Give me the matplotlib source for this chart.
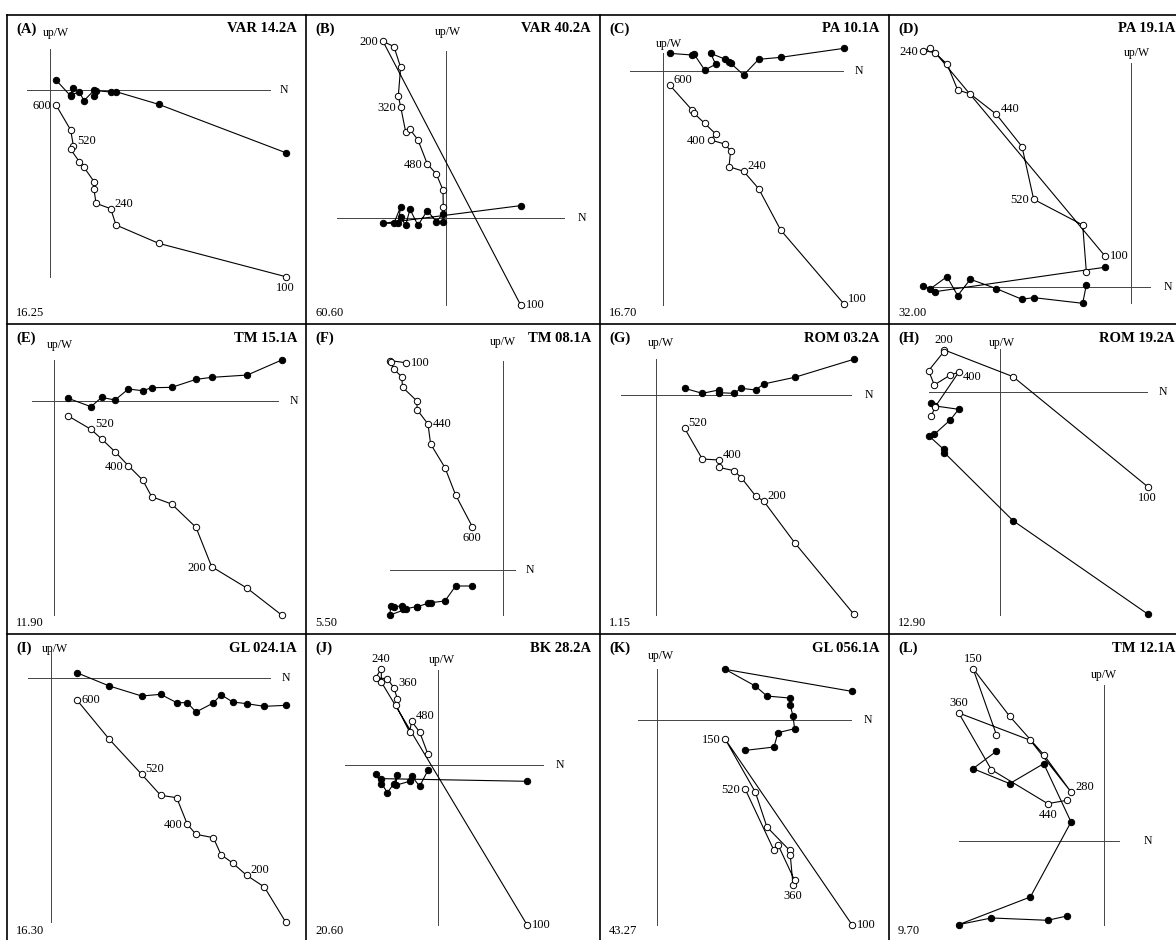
import matplotlib
matplotlib.use('Agg')
import matplotlib.pyplot as plt

plt.rcParams['font.family'] = ['Liberation Serif', 'DejaVu Serif']

# Zijderveld data, one entry per demagnetisation step.
# north = shared horizontal component, up = vertical plane (open circles),
# west = horizontal plane (filled circles). Arbitrary units (1 unit = 1/3 px).
letters = ['A', 'B', 'C', 'D', 'E', 'F', 'G', 'H', 'I', 'J', 'K', 'L']
samples = ['VAR 14.2A', 'VAR 40.2A', 'PA 10.1A', 'PA 19.1A',
           'TM 15.1A', 'TM 08.1A', 'ROM 03.2A', 'ROM 19.2A',
           'GL 024.1A', 'BK 28.2A', 'GL 056.1A', 'TM 12.1A']
scales = ['16.25', '60.60', '16.70', '32.00', '11.90', '5.50',
          '1.15', '12.90', '16.30', '20.60', '43.27', '9.70']

a_north = [18, 62, 70, 62, 88, 102, 133, 132, 138, 182, 198, 326, 707]
a_up = [-45, -120, -167, -178, -215, -232, -276, -298, -340, -356, -405, -460, -560]
a_west = [30, -18, 5, -15, -6, -32, 0, -17, -2, -6, -5, -43, -188]
a_steps = [(0, '600', 'l'), (2, '520', 'ru'), (9, '240', 'ru'), (12, '100', 'b')]

b_north = [223, -190, -157, -137, -144, -137, -122, -109, -85, -57, -30, -10, -9]
b_up = [-260, 531, 515, 453, 367, 335, 260, 267, 235, 163, 133, 85, 33]
b_west = [38, -15, -15, 35, -13, 3, -21, 27, -21, 23, -10, 13, -10]
b_steps = [(1, '200', 'l'), (5, '320', 'l'), (9, '480', 'l'), (0, '100', 'r')]

c_north = [20, 87, 93, 125, 158, 143, 185, 203, 198, 242, 287, 353, 543]
c_up = [-42, -117, -127, -157, -189, -207, -219, -239, -287, -301, -353, -477, -699]
c_west = [53, 48, 51, 3, 20, 53, 36, 25, 28, -12, 35, 41, 68]
c_steps = [(0, '600', 'ru'), (5, '400', 'l'), (9, '240', 'ru'), (12, '100', 'ru')]

d_north = [-79, -587, -624, -604, -552, -520, -482, -404, -327, -292, -145, -134]
d_up = [95, 704, 710, 717, 670, 592, 580, 519, 422, 264, 187, 47]
d_west = [60, -13, 5, -6, 32, -25, 24, -4, -36, -31, -48, 7]
d_steps = [(2, '240', 'l'), (7, '440', 'ru'), (9, '520', 'l'), (0, '100', 'r')]

e_north = [43, 111, 143, 183, 223, 266, 293, 353, 426, 473, 580, 683]
e_up = [-46, -86, -115, -153, -195, -238, -288, -310, -380, -498, -563, -643]
e_west = [7, -18, 10, 2, 35, 30, 39, 40, 64, 70, 77, 122]
e_steps = [(1, '520', 'ru'), (4, '400', 'l'), (9, '200', 'l')]

f_north = [-293, -340, -338, -328, -305, -302, -260, -258, -226, -218, -175, -143, -93]
f_up = [622, 628, 623, 602, 580, 548, 508, 480, 438, 378, 307, 225, 130]
f_west = [-118, -135, -108, -110, -108, -118, -110, -110, -100, -98, -93, -48, -48]
f_steps = [(0, '100', 'r'), (8, '440', 'r'), (12, '600', 'b')]

g_north = [85, 138, 187, 187, 233, 255, 298, 322, 415, 592]
g_up = [-100, -192, -195, -217, -227, -248, -303, -318, -443, -657]
g_west = [20, 5, 15, 7, 5, 20, 15, 33, 53, 107]
g_steps = [(0, '520', 'ru'), (2, '400', 'ru'), (7, '200', 'ru')]

h_north = [442, 38, -168, -170, -215, -198, -150, -125, -195, -207]
h_up = [-283, 47, 127, 121, 65, 22, 52, 60, -43, -71]
h_west = [-665, -385, -181, -171, -130, -126, -83, -51, -41, -33]
h_steps = [(0, '100', 'b'), (2, '200', 'a'), (7, '400', 'rd')]

i_north = [77, 175, 272, 329, 377, 409, 435, 487, 510, 545, 587, 640, 704]
i_up = [-65, -184, -289, -352, -359, -439, -469, -479, -530, -555, -592, -627, -732]
i_west = [16, -24, -54, -49, -74, -74, -102, -75, -50, -72, -77, -85, -82]
i_steps = [(0, '600', 'r'), (2, '520', 'ru'), (5, '400', 'l'), (10, '200', 'ru')]

j_north = [267, -171, -171, -188, -153, -133, -123, -128, -86, -80, -56, -31]
j_up = [-480, 250, 290, 262, 260, 232, 200, 182, 100, 132, 100, 33]
j_west = [-48, -40, -55, -25, -82, -55, -30, -60, -48, -32, -63, -15]
j_steps = [(0, '100', 'r'), (2, '240', 'a'), (5, '360', 'ru'), (9, '480', 'ru')]

k_north = [584, 204, 294, 329, 397, 399, 407, 412, 362, 350, 264]
k_up = [-615, -59, -217, -322, -392, -407, -495, -482, -375, -392, -209]
k_west = [85, 151, 101, 71, 65, 43, 11, -27, -39, -82, -92]
k_steps = [(0, '100', 'r'), (1, '150', 'l'), (6, '360', 'b'), (10, '520', 'l')]

l_north = [-322, -392, -282, -180, -98, -220, -435, -337, -168, -110]
l_up = [320, 518, 375, 260, 148, 303, 385, 215, 113, 123]
l_west = [270, 218, 173, 233, 58, -167, -250, -230, -237, -224]
l_steps = [(1, '150', 'a'), (4, '280', 'ru'), (6, '360', 'a'), (8, '440', 'b')]

panels = [
    (a_north, a_up, a_west, a_steps), (b_north, b_up, b_west, b_steps),
    (c_north, c_up, c_west, c_steps), (d_north, d_up, d_west, d_steps),
    (e_north, e_up, e_west, e_steps), (f_north, f_up, f_west, f_steps),
    (g_north, g_up, g_west, g_steps), (h_north, h_up, h_west, h_steps),
    (i_north, i_up, i_west, i_steps), (j_north, j_up, j_west, j_steps),
    (k_north, k_up, k_west, k_steps), (l_north, l_up, l_west, l_steps),
]

# ---- layout (figure pixels) ----
W, H = 1176, 940
col_edges = [7, 306, 600, 889, 1184]
row_edges = [15, 324, 634, 942]
# origin of each diagram in figure pixels
origins = [(50, 90), (446.3, 218.3), (663, 71), (1131, 287.3),
           (54, 400.7), (503.3, 570), (656.3, 395), (1000.3, 392.3),
           (51, 678), (438.3, 765.3), (657.3, 719.7), (1103.7, 841.3)]
# axis extents: (up min, up max), (north min, north max), N label x, up/W label (x, y)
vaxis = [(-560, 122), (-260, 503), (-702, 53), (-48, 674), (-643, 122), (-135, 628),
         (-660, 107), (-668, 129), (-732, 80), (-480, 285), (-617, 153), (-252, 470)]
haxis = [(-70, 660), (-327, 353), (-100, 540), (-627, 58), (-67, 673), (-340, 34),
         (-107, 585), (-215, 440), (-68, 657), (-281, 315), (-58, 582), (-435, 47)]
nlab = [690, 393, 575, 98, 708, 67, 625, 475, 692, 352, 620, 120]
uplab = [(17, 170), (5, 558), (17, 81), (18, 702), (18, 167), (0, 683),
         (13, 155), (5, 147), (12, 88), (12, 315), (12, 190), (0, 498)]

offsets = {'l': (-5, -1, 'right'), 'r': (5, 0, 'left'), 'ru': (4, 5, 'left'),
           'rd': (4, -5, 'left'), 'a': (0, 10, 'center'), 'b': (0, -11, 'center')}

fig = plt.figure(figsize=(W / 100, H / 100), dpi=100)
fig.patch.set_facecolor('white')

# frame / text overlay
over = fig.add_axes([0, 0, 1, 1])
over.set_xlim(0, W)
over.set_ylim(H, 0)
over.set_axis_off()
for x in col_edges[:4]:
    over.plot([x, x], [row_edges[0], H], color='black', lw=1.2)
for y in row_edges[:3]:
    over.plot([col_edges[0], W], [y, y], color='black', lw=1.2)

for i, (north, up, west, steps) in enumerate(panels):
    r, c = divmod(i, 4)
    x0, x1 = col_edges[c], col_edges[c + 1]
    y0, y1 = row_edges[r], row_edges[r + 1]
    gx, gy = origins[i]

    ax = fig.add_axes([x0 / W, 1 - y1 / H, (x1 - x0) / W, (y1 - y0) / H])
    ax.set_xlim((x0 - gx) * 3, (x1 - gx) * 3)
    ax.set_ylim((gy - y1) * 3, (gy - y0) * 3)
    ax.set_axis_off()
    ax.patch.set_alpha(0)

    ax.plot([0, 0], vaxis[i], color='#444444', lw=0.7, zorder=1)
    ax.plot(haxis[i], [0, 0], color='#444444', lw=0.7, zorder=1)
    ax.text(nlab[i], 0, 'N', ha='left', va='center', fontsize=8.5)
    ax.text(uplab[i][0], uplab[i][1], 'up/W', ha='center', va='center', fontsize=8.5)

    ax.plot(north, west, '-o', color='black', lw=0.8, ms=4.6,
            mfc='black', mec='black', mew=0.7, zorder=3)
    ax.plot(north, up, '-o', color='black', lw=0.8, ms=4.6,
            mfc='white', mec='black', mew=0.7, zorder=4)

    for idx, lab, pos in steps:
        dx, dy, ha = offsets[pos]
        ax.annotate(lab, (north[idx], up[idx]), xytext=(dx * 0.72, dy * 0.72),
                    textcoords='offset points', ha=ha, va='center', fontsize=9)

    over.text(x0 + 9, y0 + 14, '(%s)' % letters[i], ha='left', va='center',
              fontsize=10.5, fontweight='bold')
    over.text(x1 - 9, y0 + 14, samples[i], ha='right', va='center',
              fontsize=10.5, fontweight='bold')
    over.text(x0 + 9, y1 - 11, scales[i], ha='left', va='center', fontsize=9)

fig.savefig('out.png', dpi=100)
